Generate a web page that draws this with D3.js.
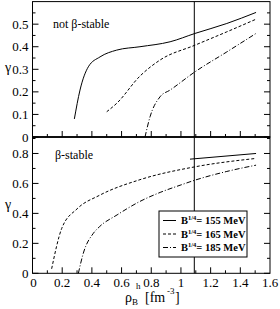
<!DOCTYPE html>
<html>
<head>
<meta charset="utf-8">
<script src="https://cdn.jsdelivr.net/npm/d3@7"></script>
<style>
  body { margin: 0; background: #fff; }
  svg text { font-family: "Liberation Serif", "Times New Roman", serif; }
</style>
</head>
<body>
<div id="chart"></div>
<script>
// data
const series = ["155", "165", "185"];
const dashes = [null, "3,2", "5,2,1,2"];

const topX155 = [0.282, 0.32, 0.376, 0.455, 0.567, 0.724, 0.927, 1.095, 1.309, 1.506];
const topY155 = [0.08, 0.208, 0.311, 0.355, 0.385, 0.40, 0.422, 0.459, 0.503, 0.552];
const topX165 = [0.50, 0.567, 0.724, 0.859, 1.095, 1.309, 1.506];
const topY165 = [0.112, 0.149, 0.27, 0.341, 0.407, 0.466, 0.522];
const topX185 = [0.758, 0.792, 0.859, 0.927, 1.095, 1.309, 1.506];
const topY185 = [0.0, 0.09, 0.178, 0.208, 0.289, 0.377, 0.459];

const botX155 = [1.061, 1.506];
const botY155 = [0.762, 0.80];
const botX165 = [0.129, 0.197, 0.30, 0.45, 0.724, 1.095, 1.506];
const botY165 = [0.03, 0.30, 0.43, 0.52, 0.625, 0.711, 0.767];
const botX185 = [0.309, 0.342, 0.41, 0.45, 0.57, 0.724, 0.86, 1.0, 1.095, 1.309, 1.506];
const botY185 = [0.0, 0.133, 0.267, 0.31, 0.39, 0.48, 0.54, 0.59, 0.622, 0.68, 0.722];

const xTicks = [0, 0.2, 0.4, 0.6, 0.8, 1, 1.2, 1.4, 1.6];
const topYTicks = [0, 0.1, 0.2, 0.3, 0.4, 0.5];
const botYTicks = [0, 0.2, 0.4, 0.6, 0.8];
const markX = 1.09;

const width = 280, height = 309;
const left = 32.5, right = 270;
const topY0 = 1.5, topY1 = 137, botY1 = 273.3;

const svg = d3.select("#chart").append("svg")
  .attr("width", width).attr("height", height);

const x = d3.scaleLinear().domain([0, 1.6]).range([left, right]);
const yTop = d3.scaleLinear().domain([0, 0.6]).range([topY1, topY0 + 0.1]);
const yBot = d3.scaleLinear().domain([0, 0.91]).range([botY1, topY1]);

function zip(xs, ys) { return xs.map((v, i) => [v, ys[i]]); }

const topData = [zip(topX155, topY155), zip(topX165, topY165), zip(topX185, topY185)];
const botData = [zip(botX155, botY155), zip(botX165, botY165), zip(botX185, botY185)];

function range(a, b, s) {
  const out = [];
  for (let v = a; v <= b + 1e-9; v += s) out.push(+v.toFixed(3));
  return out;
}

function panel(y, yMax, yStep, yLabels, data, showXLabels) {
  const g = svg.append("g");
  const y0 = y.range()[0], y1 = y.range()[1];

  // frame
  g.append("rect")
    .attr("x", left).attr("y", y1)
    .attr("width", right - left).attr("height", y0 - y1)
    .attr("fill", "none").attr("stroke", "#000").attr("stroke-width", 1);

  // left / right ticks (inward)
  const minorY = range(0, yMax, yStep / 2);
  const isMajor = v => Math.abs(v / yStep - Math.round(v / yStep)) < 1e-6;
  g.selectAll(null).data(minorY).enter().append("line")
    .attr("x1", left).attr("x2", v => left + (isMajor(v) ? 6 : 3))
    .attr("y1", v => y(v)).attr("y2", v => y(v))
    .attr("stroke", "#000");
  g.selectAll(null).data(minorY).enter().append("line")
    .attr("x1", right).attr("x2", v => right - (isMajor(v) ? 6 : 3))
    .attr("y1", v => y(v)).attr("y2", v => y(v))
    .attr("stroke", "#000");

  // y tick labels
  g.selectAll(null).data(yLabels).enter().append("text")
    .attr("x", left - 4).attr("y", v => y(v) + 4.5)
    .attr("text-anchor", "end")
    .style("font-size", "13px")
    .text(v => v === 0 ? "0" : d3.format(".1f")(v));

  // bottom ticks
  const xt = range(0.1, 1.5, 0.1);
  g.selectAll(null).data(xt).enter().append("line")
    .attr("x1", v => x(v)).attr("x2", v => x(v))
    .attr("y1", y0).attr("y2", v => y0 - (Math.round(v * 10) % 2 === 0 ? 6 : 3))
    .attr("stroke", "#000");

  if (showXLabels) {
    g.selectAll(null).data(xTicks).enter().append("text")
      .attr("x", v => x(v) + (v === 0 ? 1 : 0)).attr("y", y0 + 14)
      .attr("text-anchor", "middle")
      .style("font-size", "13px")
      .text(v => v);
  }

  const line = d3.line().x(d => x(d[0])).y(d => y(d[1])).curve(d3.curveMonotoneX);
  g.selectAll(null).data(data).enter().append("path")
    .attr("d", line)
    .attr("fill", "none").attr("stroke", "#000").attr("stroke-width", 1)
    .attr("stroke-dasharray", (d, i) => dashes[i]);
  return g;
}

panel(yTop, 0.55, 0.1, topYTicks, topData, false);
panel(yBot, 0.9, 0.2, botYTicks, botData, true);

// thicker divider
svg.append("line")
  .attr("x1", left).attr("x2", right)
  .attr("y1", topY1).attr("y2", topY1)
  .attr("stroke", "#000").attr("stroke-width", 1.6);

// vertical marker
svg.append("line")
  .attr("x1", x(markX)).attr("x2", x(markX))
  .attr("y1", topY0).attr("y2", botY1)
  .attr("stroke", "#000").attr("stroke-width", 1);

// panel captions
svg.append("text").attr("x", 53).attr("y", 28)
  .style("font-size", "12px").text("not β-stable");
svg.append("text").attr("x", 55).attr("y", 159)
  .style("font-size", "12px").text("β-stable");

// y labels
svg.append("text").attr("x", 8).attr("y", 72).attr("text-anchor", "middle")
  .style("font-size", "14px").text("γ");
svg.append("text").attr("x", 8).attr("y", 209).attr("text-anchor", "middle")
  .style("font-size", "14px").text("γ");

// x label
svg.append("text").attr("x", 125).attr("y", 302).style("font-size", "14px").text("ρ");
svg.append("text").attr("x", 132).attr("y", 305).style("font-size", "9px").text("B");
svg.append("text").attr("x", 136).attr("y", 289).style("font-size", "9px").text("h");
svg.append("text").attr("x", 145).attr("y", 302).style("font-size", "14px").text("[fm");
svg.append("text").attr("x", 167).attr("y", 294).style("font-size", "9px").text("-3");
svg.append("text").attr("x", 175).attr("y", 302).style("font-size", "14px").text("]");

// legend
const lg = svg.append("g");
lg.append("rect").attr("x", 159).attr("y", 211).attr("width", 88).attr("height", 46)
  .attr("fill", "#fff").attr("stroke", "#000").attr("stroke-width", 1);
series.forEach((s, i) => {
  const cy = 220.5 + i * 13.5;
  lg.append("line").attr("x1", 163).attr("x2", 176).attr("y1", cy).attr("y2", cy)
    .attr("stroke", "#000").attr("stroke-dasharray", dashes[i]);
  const t = lg.append("text").attr("x", 181).attr("y", cy + 3.5)
    .style("font-size", "10.5px").style("font-weight", "bold");
  t.append("tspan").text("B");
  t.append("tspan").attr("dy", -4).style("font-size", "6.5px").text("1/4");
  t.append("tspan").attr("dy", 4).text("= " + s + " MeV");
});
</script>
</body>
</html>
